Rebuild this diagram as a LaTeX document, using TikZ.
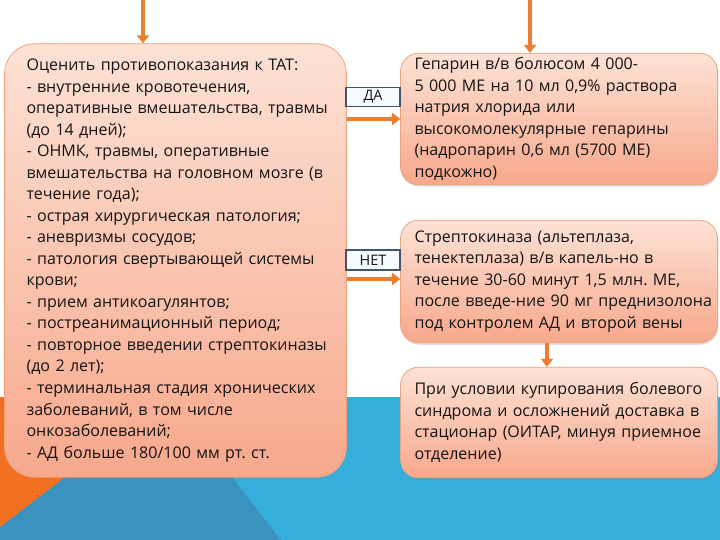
\documentclass[tikz,border=0pt]{standalone}
\usepackage{fontspec}
\setmainfont{Open Sans}
\usetikzlibrary{arrows.meta,shadows}
\frenchspacing
\definecolor{arrorange}{HTML}{ED7D31}
\definecolor{bgorange}{HTML}{F37022}
\definecolor{lblue}{HTML}{35AEDC}
\definecolor{dblue}{HTML}{3A93BF}
\definecolor{boxtop}{HTML}{FDE2D5}
\definecolor{boxbot}{HTML}{F7A88C}
\definecolor{boxline}{HTML}{EFA27E}
\definecolor{lblline}{HTML}{44546A}
\definecolor{lblfill}{HTML}{F5FAFC}
\definecolor{txt}{HTML}{141414}
\newcommand\tline[1]{\mbox{#1}}
\tikzset{
  flowbox/.style={draw=boxline, line width=0.8pt, top color=boxtop, bottom color=boxbot,
    text=txt, align=left, inner sep=0pt, font=\fontsize{16.1}{21.6}\selectfont},
  leftbox/.style={flowbox, rounded corners=30},
  rightbox/.style={flowbox, rounded corners=18, drop shadow={opacity=0.25, shadow xshift=1pt, shadow yshift=-2pt}},
  lbl/.style={draw=lblline, line width=1.6pt, fill=lblfill, inner sep=0pt, text=txt,
    font=\fontsize{14.5}{16}\selectfont},
  arr/.style={draw=arrorange, line width=3.3pt, -{Triangle[length=8pt,width=12pt]}}
}
\begin{document}
\begin{tikzpicture}[x=1bp,y=-1bp]
\useasboundingbox (0,0) rectangle (720,540);
% background
\fill[white] (0,0) rectangle (720,540);
\fill[lblue] (0,397) rectangle (720,540);
\fill[dblue] (169,397) -- (0,527) -- (0,540) -- (281,540) -- cycle;
\fill[bgorange] (0,397) -- (169,397) -- (0,527) -- cycle;
% boxes
\node[leftbox, minimum width=343, minimum height=435, text width=299] (L) at (175.5,260.5) {%
\tline{Оценить противопоказания к ТАТ:}\\
\tline{- внутренние кровотечения,}\\
\tline{оперативные вмешательства, травмы}\\
\tline{(до 14 дней);}\\
\tline{- ОНМК, травмы, оперативные}\\
\tline{вмешательства на головном мозге (в}\\
\tline{течение года);}\\
\tline{- острая хирургическая патология;}\\
\tline{- аневризмы сосудов;}\\
\tline{- патология свертывающей системы}\\
\tline{крови;}\\
\tline{- прием антикоагулянтов;}\\
\tline{- постреанимационный период;}\\
\tline{- повторное введении стрептокиназы}\\
\tline{(до 2 лет);}\\
\tline{- терминальная стадия хронических}\\
\tline{заболеваний, в том числе}\\
\tline{онкозаболеваний;}\\
\tline{- АД больше 180/100 мм рт. ст.}};
\node[rightbox, minimum width=318, minimum height=132, text width=290] (R1) at (559,119) {%
\tline{Гепарин в/в болюсом 4 000-}\\
\tline{5 000 МЕ на 10 мл 0,9\% раствора}\\
\tline{натрия хлорида или}\\
\tline{высокомолекулярные гепарины}\\
\tline{(надропарин 0,6 мл (5700 МЕ)}\\
\tline{подкожно)}};
\node[rightbox, minimum width=318, minimum height=123, text width=290] (R2) at (559,281.5) {%
\tline{Стрептокиназа (альтеплаза,}\\
\tline{тенектеплаза) в/в капель-но в}\\
\tline{течение 30-60 минут 1,5 млн. МЕ,}\\
\tline{после введе-ние 90 мг преднизолона}\\
\tline{под контролем АД и второй вены}};
\node[rightbox, minimum width=318, minimum height=111, text width=290] (R3) at (559,422.5) {%
\tline{При условии купирования болевого}\\
\tline{синдрома и осложнений доставка в}\\
\tline{стационар (ОИТАР, минуя приемное}\\
\tline{отделение)}};
% labels
\node[lbl, minimum width=54, minimum height=19] (da) at (373,97) {ДА};
\node[lbl, minimum width=54, minimum height=20] (net) at (373,260) {НЕТ};
% connectors
\coordinate (t1) at (143,0);
\coordinate (t2) at (530,0);
\coordinate (m) at (547,0);
\coordinate (ya) at (0,119);
\coordinate (yn) at (0,279);
\draw[arr] (t1) -- (L.north -| t1);
\draw[arr] (t2) -- (R1.north -| t2);
\draw[arr] (L.east |- ya) -- (R1.west |- ya);
\draw[arr] (L.east |- yn) -- (R2.west |- yn);
\draw[arr] (R2.south -| m) -- (R3.north -| m);
\end{tikzpicture}
\end{document}
